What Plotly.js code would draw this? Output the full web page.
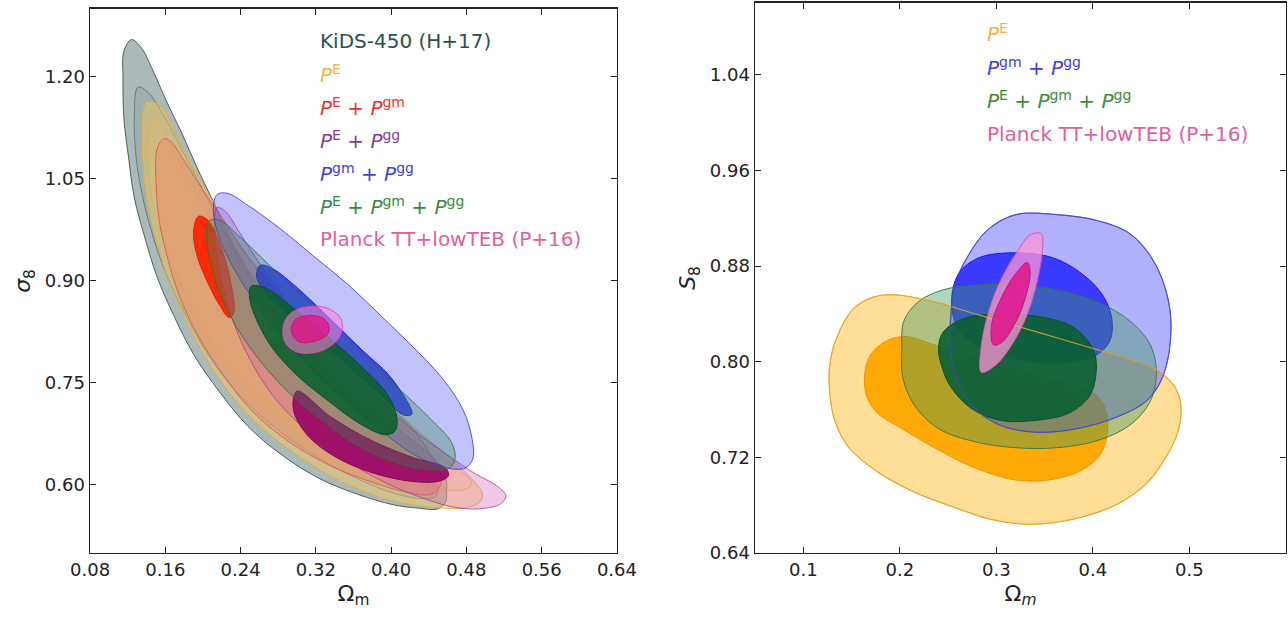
<!DOCTYPE html>
<html>
<head>
<meta charset="utf-8">
<script src="https://cdn.plot.ly/plotly-3.0.1.min.js"></script>
<style>html,body{margin:0;padding:0;background:#fff;}#chart{width:1288px;height:620px;}</style>
</head>
<body>
<div id="chart"></div>
<script>
// ---------------- LEFT PANEL: Omega_m vs sigma_8 (contour vertices) ----------------
const L_KIDS_2S_OM = [0.124,0.116,0.115,0.116,0.121,0.127,0.138,0.151,0.169,0.191,0.217,0.248,0.283,0.323,0.363,0.402,0.428,0.450,0.458,0.459,0.458,0.446,0.415,0.380,0.345,0.310,0.279,0.252,0.230,0.213,0.195,0.178,0.160,0.147,0.134];
const L_KIDS_2S_S8 = [1.255,1.238,1.197,1.139,1.081,1.023,0.965,0.907,0.849,0.790,0.738,0.686,0.645,0.610,0.587,0.571,0.566,0.565,0.575,0.587,0.610,0.639,0.674,0.715,0.756,0.802,0.854,0.907,0.959,1.011,1.063,1.116,1.168,1.209,1.244];
const L_KIDS_1S_OM = [0.131,0.127,0.129,0.136,0.147,0.162,0.182,0.206,0.235,0.270,0.310,0.354,0.398,0.433,0.448,0.448,0.424,0.389,0.354,0.318,0.288,0.261,0.239,0.219,0.200,0.180,0.160,0.142];
const L_KIDS_1S_S8 = [1.185,1.139,1.081,1.023,0.965,0.907,0.849,0.790,0.738,0.692,0.651,0.616,0.590,0.580,0.584,0.601,0.634,0.674,0.721,0.773,0.825,0.878,0.930,0.982,1.034,1.087,1.139,1.177];

const L_PE_2S_OM = [0.140,0.136,0.136,0.140,0.149,0.162,0.180,0.202,0.230,0.266,0.305,0.349,0.393,0.428,0.455,0.481,0.494,0.497,0.472,0.433,0.389,0.345,0.305,0.270,0.239,0.213,0.191,0.169,0.156,0.147];
const L_PE_2S_S8 = [1.163,1.145,1.081,1.023,0.965,0.907,0.849,0.790,0.732,0.680,0.639,0.604,0.580,0.570,0.566,0.567,0.575,0.587,0.628,0.674,0.727,0.779,0.837,0.895,0.953,1.011,1.063,1.122,1.156,1.163];
const L_PE_1S_OM = [0.147,0.141,0.142,0.151,0.164,0.182,0.204,0.235,0.270,0.310,0.354,0.398,0.442,0.477,0.486,0.450,0.406,0.362,0.318,0.279,0.244,0.213,0.186,0.164,0.153];
const L_PE_1S_S8 = [1.139,1.110,1.052,0.994,0.936,0.878,0.819,0.761,0.709,0.668,0.634,0.610,0.596,0.593,0.602,0.645,0.692,0.744,0.802,0.860,0.918,0.982,1.046,1.104,1.136];

const L_PEGM_2S_OM = [0.158,0.151,0.150,0.153,0.162,0.175,0.195,0.222,0.252,0.292,0.336,0.380,0.415,0.442,0.451,0.453,0.428,0.393,0.354,0.314,0.279,0.248,0.222,0.200,0.178,0.166];
const L_PEGM_2S_S8 = [1.109,1.093,1.052,0.994,0.936,0.878,0.819,0.761,0.709,0.663,0.628,0.604,0.590,0.586,0.596,0.610,0.674,0.721,0.773,0.825,0.883,0.936,0.988,1.034,1.081,1.105];
const L_PEGM_1S_OM = [0.195,0.204,0.215,0.224,0.230,0.233,0.228,0.217,0.204,0.194,0.190];
const L_PEGM_1S_S8 = [0.995,0.991,0.965,0.930,0.895,0.854,0.846,0.866,0.901,0.936,0.971];

const L_PEGG_2S_OM = [0.215,0.213,0.219,0.230,0.248,0.274,0.310,0.349,0.393,0.433,0.468,0.494,0.516,0.522,0.512,0.490,0.459,0.424,0.389,0.354,0.318,0.288,0.261,0.239,0.224];
const L_PEGG_2S_S8 = [1.008,0.965,0.907,0.849,0.790,0.732,0.680,0.639,0.604,0.581,0.567,0.565,0.572,0.584,0.599,0.616,0.645,0.680,0.721,0.767,0.819,0.872,0.924,0.971,1.002];
const L_PEGG_1S_OM = [0.300,0.336,0.380,0.424,0.457,0.461,0.452,0.424,0.380,0.340,0.310,0.296];
const L_PEGG_1S_S8 = [0.738,0.700,0.665,0.640,0.626,0.614,0.606,0.605,0.618,0.642,0.675,0.712];

const L_GMGG_2S_OM = [0.215,0.226,0.248,0.283,0.318,0.354,0.389,0.424,0.455,0.477,0.486,0.487,0.479,0.459,0.424,0.389,0.354,0.318,0.288,0.257,0.233,0.217,0.211];
const L_GMGG_2S_S8 = [1.027,1.029,1.011,0.976,0.936,0.895,0.849,0.802,0.756,0.709,0.668,0.639,0.625,0.625,0.645,0.680,0.721,0.767,0.814,0.866,0.918,0.965,1.005];
const L_GMGG_1S_OM = [0.261,0.274,0.301,0.336,0.371,0.398,0.420,0.422,0.413,0.389,0.358,0.323,0.288,0.266,0.257];
const L_GMGG_1S_S8 = [0.923,0.918,0.889,0.843,0.796,0.761,0.715,0.704,0.703,0.732,0.770,0.814,0.854,0.883,0.907];

const L_ALL_2S_OM = [0.206,0.217,0.239,0.270,0.305,0.340,0.376,0.411,0.442,0.464,0.468,0.462,0.433,0.398,0.362,0.327,0.292,0.261,0.235,0.215,0.205,0.204];
const L_ALL_2S_S8 = [0.988,0.990,0.965,0.924,0.878,0.831,0.785,0.738,0.697,0.663,0.639,0.625,0.623,0.636,0.660,0.694,0.735,0.782,0.834,0.892,0.947,0.976];
const L_ALL_1S_OM = [0.251,0.266,0.296,0.332,0.367,0.395,0.406,0.404,0.393,0.367,0.332,0.301,0.274,0.257,0.250];
const L_ALL_1S_S8 = [0.892,0.890,0.860,0.819,0.776,0.735,0.700,0.679,0.674,0.690,0.725,0.760,0.801,0.843,0.872];

const L_PLANCK_2S_OM = [0.285,0.292,0.310,0.332,0.346,0.348,0.340,0.323,0.301,0.288];
const L_PLANCK_2S_S8 = [0.831,0.851,0.862,0.860,0.846,0.828,0.809,0.796,0.795,0.808];
const L_PLANCK_1S_OM = [0.294,0.299,0.312,0.327,0.334,0.332,0.318,0.303,0.296];
const L_PLANCK_1S_S8 = [0.831,0.844,0.849,0.846,0.834,0.821,0.811,0.810,0.819];

// ---------------- RIGHT PANEL: Omega_m vs S_8 ----------------
const R_PE_2S_OM = [0.1274,0.1274,0.1346,0.1515,0.1726,0.1937,0.2359,0.2781,0.3203,0.3624,0.4046,0.4468,0.4679,0.4848,0.4911,0.4890,0.4764,0.4553,0.4257,0.3835,0.3371,0.2949,0.2570,0.2148,0.1768,0.1473,0.1325];
const R_PE_2S_S8 = [0.774,0.797,0.820,0.844,0.854,0.856,0.850,0.840,0.830,0.820,0.810,0.800,0.792,0.779,0.764,0.744,0.721,0.698,0.681,0.669,0.664,0.668,0.678,0.691,0.708,0.728,0.751];
const R_PE_1S_OM = [0.1633,0.1684,0.1852,0.2063,0.2359,0.2781,0.3203,0.3624,0.4046,0.4152,0.4089,0.3878,0.3540,0.3203,0.2781,0.2359,0.2021,0.1768,0.1662];
const R_PE_1S_S8 = [0.784,0.804,0.817,0.821,0.814,0.804,0.794,0.784,0.771,0.751,0.724,0.709,0.701,0.701,0.711,0.728,0.744,0.757,0.770];

const R_GMGG_2S_OM = [0.2527,0.2570,0.2696,0.2907,0.3203,0.3624,0.4046,0.4384,0.4637,0.4785,0.4806,0.4722,0.4553,0.4257,0.3835,0.3414,0.3034,0.2738,0.2570,0.2519];
const R_GMGG_2S_S8 = [0.837,0.864,0.887,0.910,0.923,0.923,0.918,0.907,0.883,0.850,0.820,0.787,0.767,0.754,0.744,0.741,0.747,0.764,0.790,0.814];
const R_GMGG_1S_OM = [0.2536,0.2612,0.2823,0.3203,0.3582,0.3878,0.4089,0.4194,0.4173,0.4004,0.3624,0.3203,0.2865,0.2612];
const R_GMGG_1S_S8 = [0.850,0.874,0.887,0.891,0.887,0.874,0.857,0.837,0.817,0.804,0.799,0.802,0.810,0.827];

const R_ALL_2S_OM = [0.2021,0.2042,0.2190,0.2443,0.2781,0.3203,0.3624,0.4046,0.4384,0.4595,0.4658,0.4595,0.4384,0.4046,0.3624,0.3203,0.2781,0.2401,0.2148,0.2030];
const R_ALL_2S_S8 = [0.810,0.834,0.850,0.860,0.864,0.864,0.860,0.850,0.834,0.814,0.791,0.767,0.747,0.734,0.728,0.728,0.733,0.744,0.764,0.787];
const R_ALL_1S_OM = [0.2401,0.2443,0.2633,0.2992,0.3414,0.3793,0.4004,0.4034,0.3962,0.3751,0.3414,0.3034,0.2738,0.2527,0.2443];
const R_ALL_1S_S8 = [0.810,0.824,0.835,0.840,0.838,0.829,0.810,0.791,0.771,0.757,0.751,0.751,0.761,0.779,0.794];

const R_PLANCK_2S_OM = [0.2844,0.2844,0.2928,0.3055,0.3224,0.3350,0.3464,0.3477,0.3414,0.3308,0.3160,0.2992];
const R_PLANCK_2S_S8 = [0.791,0.814,0.844,0.870,0.893,0.906,0.907,0.893,0.864,0.837,0.814,0.797];
const R_PLANCK_1S_OM = [0.2970,0.2949,0.3055,0.3203,0.3321,0.3350,0.3287,0.3181,0.3055];
const R_PLANCK_1S_S8 = [0.814,0.830,0.854,0.874,0.883,0.874,0.850,0.830,0.816];

// ---------------- tick labels & legend entries ----------------
const L_X_TICKS = [0.08,0.16,0.24,0.32,0.40,0.48,0.56,0.64];
const L_Y_TICKS = [0.60,0.75,0.90,1.05,1.20];
const R_X_TICKS = [0.1,0.2,0.3,0.4,0.5];
const R_Y_TICKS = [0.64,0.72,0.80,0.88,0.96,1.04];

const L_LEGEND_TEXT = [
  'KiDS-450 (H+17)',
  '<i>P</i><sup>E</sup>',
  '<i>P</i><sup>E</sup> + <i>P</i><sup>gm</sup>',
  '<i>P</i><sup>E</sup> + <i>P</i><sup>gg</sup>',
  '<i>P</i><sup>gm</sup> + <i>P</i><sup>gg</sup>',
  '<i>P</i><sup>E</sup> + <i>P</i><sup>gm</sup> + <i>P</i><sup>gg</sup>',
  'Planck TT+lowTEB (P+16)'
];
const L_LEGEND_COLOR = ['#2f4f4f','#f2b43c','#e8352a','#8a3c8a','#4040e0','#3a8c3a','#e0609e'];
const R_LEGEND_TEXT = [
  '<i>P</i><sup>E</sup>',
  '<i>P</i><sup>gm</sup> + <i>P</i><sup>gg</sup>',
  '<i>P</i><sup>E</sup> + <i>P</i><sup>gm</sup> + <i>P</i><sup>gg</sup>',
  'Planck TT+lowTEB (P+16)'
];
const R_LEGEND_COLOR = ['#f2b43c','#4040e0','#3a8c3a','#e0609e'];

// ---------------- build traces ----------------
function closed(a){ return a.concat([a[0]]); }
const traces = [];
function region(xs, ys, xa, ya, fill, edge){
  traces.push({type:'scatter', mode:'lines', x:closed(xs), y:closed(ys), xaxis:xa, yaxis:ya,
    fill:'toself', fillcolor:fill, line:{width:1, shape:'spline', smoothing:1, color:edge},
    hoverinfo:'skip', showlegend:false});
}
function outline(xs, ys, xa, ya, edge){
  traces.push({type:'scatter', mode:'lines', x:closed(xs), y:closed(ys), xaxis:xa, yaxis:ya,
    line:{width:1.1, shape:'spline', smoothing:1, color:edge}, hoverinfo:'skip', showlegend:false});
}
// left panel, bottom to top
region(L_KIDS_2S_OM, L_KIDS_2S_S8, 'x','y','rgba(47,79,79,0.40)','rgba(47,79,79,0.85)');
region(L_KIDS_1S_OM, L_KIDS_1S_S8, 'x','y','rgba(47,79,79,0.10)','rgba(47,79,79,0.55)');
region(L_PE_2S_OM, L_PE_2S_S8, 'x','y','rgba(255,205,90,0.42)','rgba(235,170,50,0.9)');
region(L_PE_1S_OM, L_PE_1S_S8, 'x','y','rgba(255,190,70,0.15)','rgba(235,170,50,0.6)');
region(L_PEGM_2S_OM, L_PEGM_2S_S8, 'x','y','rgba(255,110,90,0.32)','rgba(225,80,70,0.8)');
region(L_PEGM_1S_OM, L_PEGM_1S_S8, 'x','y','rgba(255,30,0,0.92)','rgba(230,30,0,1)');
region(L_PEGG_2S_OM, L_PEGG_2S_S8, 'x','y','rgba(205,90,180,0.33)','rgba(170,60,150,0.8)');
region(L_PEGG_1S_OM, L_PEGG_1S_S8, 'x','y','rgba(150,0,100,0.88)','rgba(140,0,95,1)');
region(L_GMGG_2S_OM, L_GMGG_2S_S8, 'x','y','rgba(70,70,245,0.33)','rgba(50,50,220,0.8)');
region(L_GMGG_1S_OM, L_GMGG_1S_S8, 'x','y','rgba(30,30,255,0.8)','rgba(30,30,230,1)');
region(L_ALL_2S_OM, L_ALL_2S_S8, 'x','y','rgba(50,135,75,0.33)','rgba(40,110,60,0.8)');
region(L_ALL_1S_OM, L_ALL_1S_S8, 'x','y','rgba(10,95,45,0.88)','rgba(10,80,40,1)');
region(L_PLANCK_2S_OM, L_PLANCK_2S_S8, 'x','y','rgba(255,130,215,0.55)','rgba(220,80,170,0.9)');
region(L_PLANCK_1S_OM, L_PLANCK_1S_S8, 'x','y','rgba(225,20,135,0.8)','rgba(200,20,120,1)');
// right panel
region(R_PE_2S_OM, R_PE_2S_S8, 'x2','y2','rgba(255,190,50,0.5)','rgba(235,165,40,0.95)');
region(R_PE_1S_OM, R_PE_1S_S8, 'x2','y2','rgba(255,165,0,0.95)','rgba(240,150,0,1)');
region(R_GMGG_2S_OM, R_GMGG_2S_S8, 'x2','y2','rgba(70,70,250,0.42)','rgba(60,60,220,0.9)');
region(R_GMGG_1S_OM, R_GMGG_1S_S8, 'x2','y2','rgba(20,20,255,0.75)','rgba(20,20,230,1)');
region(R_ALL_2S_OM, R_ALL_2S_S8, 'x2','y2','rgba(60,150,90,0.4)','rgba(50,120,70,0.9)');
region(R_ALL_1S_OM, R_ALL_1S_S8, 'x2','y2','rgba(10,95,50,0.9)','rgba(10,80,40,1)');
outline(R_PE_2S_OM, R_PE_2S_S8, 'x2','y2','rgba(235,165,40,0.85)');
outline(R_GMGG_2S_OM, R_GMGG_2S_S8, 'x2','y2','rgba(70,70,220,0.7)');
region(R_PLANCK_2S_OM, R_PLANCK_2S_S8, 'x2','y2','rgba(255,150,215,0.75)','rgba(220,80,170,0.9)');
region(R_PLANCK_1S_OM, R_PLANCK_1S_S8, 'x2','y2','rgba(225,20,140,0.85)','rgba(200,20,120,1)');

const FONT = 'DejaVu Sans, sans-serif';
function axisBase(){ return {showgrid:false, zeroline:false, showline:true, mirror:'ticks', linecolor:'#222', linewidth:1.5,
  ticks:'inside', ticklen:6, tickwidth:1, tickcolor:'#222', tickfont:{family:FONT, size:18, color:'#222'}}; }

const annotations = [];
L_LEGEND_TEXT.forEach((t,i)=>{
  annotations.push({xref:'x domain', yref:'y domain', x:0.432, y:0.941 - i*0.0605, xanchor:'left', yanchor:'middle',
    text:t, showarrow:false, font:{family:FONT, size:20, color:L_LEGEND_COLOR[i]}});
});
R_LEGEND_TEXT.forEach((t,i)=>{
  annotations.push({xref:'x2 domain', yref:'y2 domain', x:0.433, y:0.945 - i*0.061, xanchor:'left', yanchor:'middle',
    text:t, showarrow:false, font:{family:FONT, size:20, color:R_LEGEND_COLOR[i]}});
});

const layout = {
  width:1288, height:620, margin:{l:0,r:0,t:0,b:0}, paper_bgcolor:'#fff', plot_bgcolor:'#fff',
  showlegend:false, hovermode:false,
  xaxis: Object.assign(axisBase(), {domain:[0.0699,0.479], range:[0.08,0.64], tickvals:L_X_TICKS, tickformat:'.2f', anchor:'y',
    title:{text:'Ω<sub>m</sub>', font:{family:FONT, size:22, color:'#222'}, standoff:6}}),
  yaxis: Object.assign(axisBase(), {domain:[0.1081,0.9855], range:[0.50,1.30], tickvals:L_Y_TICKS, tickformat:'.2f', anchor:'x',
    title:{text:'<i>σ</i><sub>8</sub>', font:{family:FONT, size:22, color:'#222'}, standoff:8}}),
  xaxis2: Object.assign(axisBase(), {domain:[0.5862,0.9984], range:[0.05,0.60], tickvals:R_X_TICKS, tickformat:'.1f', anchor:'y2',
    title:{text:'Ω<sub><i>m</i></sub>', font:{family:FONT, size:22, color:'#222'}, standoff:6}}),
  yaxis2: Object.assign(axisBase(), {domain:[0.1081,0.9952], range:[0.64,1.10], tickvals:R_Y_TICKS, tickformat:'.2f', anchor:'x2',
    title:{text:'<i>S</i><sub>8</sub>', font:{family:FONT, size:22, color:'#222'}, standoff:8}}),
  annotations: annotations
};

Plotly.newPlot('chart', traces, layout, {staticPlot:true, displayModeBar:false});
</script>
</body>
</html>
